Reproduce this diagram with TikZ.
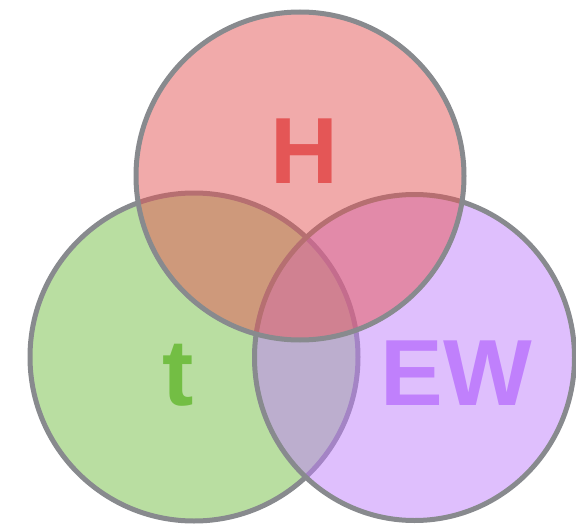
\documentclass[tikz,border=0pt]{standalone}
\usepackage{fontspec}
\setmainfont{Liberation Sans}
\definecolor{hred}{RGB}{228,86,86}
\definecolor{tgreen}{RGB}{115,190,68}
\definecolor{ewpurple}{RGB}{192,128,252}
\definecolor{rim}{RGB}{136,138,142}
\tikzset{
  setfill/.style={fill=#1, fill opacity=0.5},
  setrim/.style={draw=rim, line width=5pt},
  setlabel/.style={text=#1, font=\fontsize{94}{94}\selectfont\bfseries, inner sep=0pt, anchor=base}
}
\begin{document}
\begin{tikzpicture}[x=1pt, y=-1pt]
  \useasboundingbox (0,0) rectangle (576,527);
  % set centres
  \coordinate (cT) at (194,357);
  \coordinate (cEW) at (414.5,357.5);
  \coordinate (cH) at (300,176);
  % t (drawn first, so later fills tint its rim)
  \fill[setfill=tgreen] (cT) circle [radius=164pt];
  \draw[setrim] (cT) circle [radius=164pt];
  % EW
  \fill[setfill=ewpurple] (cEW) ellipse [x radius=160pt, y radius=163pt];
  \draw[setrim] (cEW) ellipse [x radius=160pt, y radius=163pt];
  % H on top
  \fill[setfill=hred] (cH) circle [radius=164pt];
  \draw[setrim] (cH) circle [radius=164pt];
  % labels
  \node[setlabel=hred] (lH) at (304,183) {H};
  \node[setlabel=tgreen] (lT) at (178,405) {t};
  \node[setlabel=ewpurple] (lEW) at (456.5,405) {EW};
\end{tikzpicture}
\end{document}
